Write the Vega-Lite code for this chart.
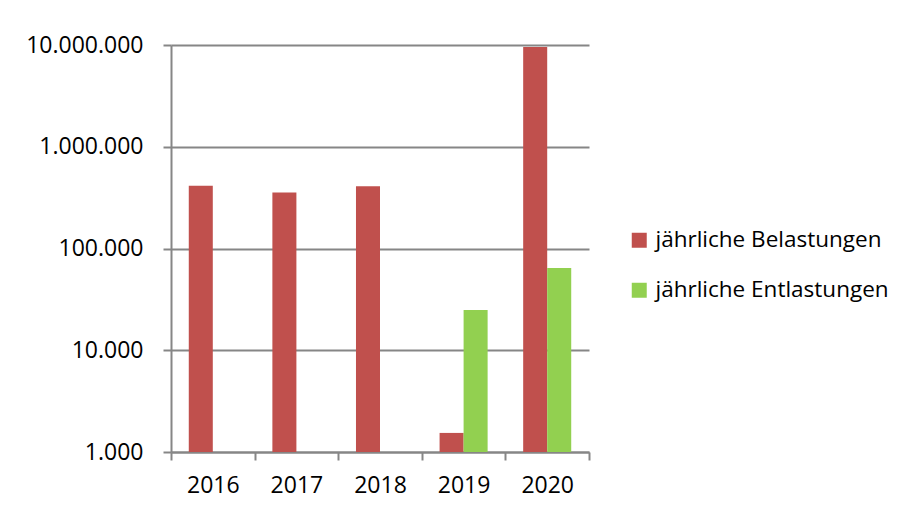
{
  "$schema": "https://vega.github.io/schema/vega-lite/v6.json",
  "autosize": "none",
  "width": 418,
  "height": 407,
  "padding": {"left": 171, "top": 45, "right": 320, "bottom": 61},
  "background": "white",
  "data": {
    "values": [
      {"year": "2016", "series": "jährliche Belastungen", "value": 414000},
      {"year": "2017", "series": "jährliche Belastungen", "value": 356000},
      {"year": "2018", "series": "jährliche Belastungen", "value": 408000},
      {"year": "2019", "series": "jährliche Belastungen", "value": 1540},
      {"year": "2019", "series": "jährliche Entlastungen", "value": 24900},
      {"year": "2020", "series": "jährliche Belastungen", "value": 9560000},
      {"year": "2020", "series": "jährliche Entlastungen", "value": 64500}
    ]
  },
  "mark": {"type": "bar"},
  "encoding": {
    "x": {
      "field": "year",
      "type": "nominal",
      "scale": {"paddingInner": 0, "paddingOuter": 0},
      "axis": {
        "title": null,
        "labelAngle": 0,
        "tickBand": "extent",
        "tickSize": 8,
        "labelPadding": 14,
        "grid": false
      }
    },
    "xOffset": {
      "field": "series",
      "type": "nominal",
      "scale": {"domain": ["jährliche Belastungen", "jährliche Entlastungen"], "paddingInner": 0, "paddingOuter": 0.74}
    },
    "y": {
      "field": "value",
      "type": "quantitative",
      "stack": null,
      "scale": {"type": "log", "domain": [1000, 10000000], "nice": false},
      "axis": {
        "title": null,
        "values": [1000, 10000, 100000, 1000000, 10000000],
        "format": ",d",
        "tickSize": 8,
        "labelPadding": 20,
        "grid": true
      }
    },
    "color": {
      "field": "series",
      "type": "nominal",
      "scale": {"domain": ["jährliche Belastungen", "jährliche Entlastungen"], "range": ["#C0504D", "#92D050"]},
      "legend": {
        "title": null,
        "orient": "none",
        "legendX": 457,
        "legendY": 184,
        "symbolType": "square",
        "symbolSize": 225,
        "symbolStrokeWidth": 0,
        "labelFontSize": 22.5,
        "labelFont": "Open Sans",
        "labelColor": "#000000",
        "labelOffset": 5,
        "rowPadding": 27,
        "labelLimit": 400
      }
    }
  },
  "config": {
    "locale": {
      "number": {"decimal": ",", "thousands": ".", "grouping": [3], "currency": ["", " €"]}
    },
    "view": {"stroke": null},
    "axis": {
      "domainColor": "#868686",
      "domainWidth": 2,
      "tickColor": "#868686",
      "tickWidth": 2,
      "gridColor": "#868686",
      "gridWidth": 2,
      "gridOpacity": 1,
      "labelFont": "Open Sans",
      "labelFontSize": 23,
      "labelColor": "#000000"
    }
  }
}
